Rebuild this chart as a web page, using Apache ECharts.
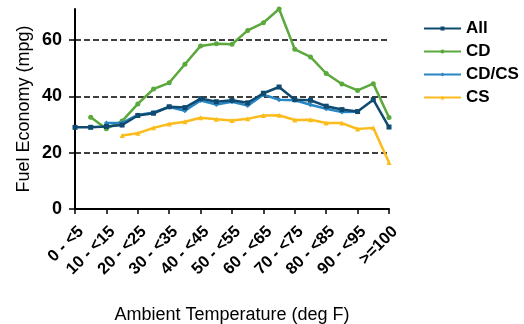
<!DOCTYPE html>
<html><head><meta charset="utf-8">
<script src="https://cdn.jsdelivr.net/npm/echarts@6/dist/echarts.min.js"></script>
<style>html,body{margin:0;padding:0;background:#fff}#c{width:524px;height:324px}</style>
</head><body><div id="c"></div>
<script>
var categories = ['0 - <5','5 - <10','10 - <15','15 - <20','20 - <25','25 - <30','30 - <35','35 - <40','40 - <45','45 - <50','50 - <55','55 - <60','60 - <65','65 - <70','70 - <75','75 - <80','80 - <85','85 - <90','90 - <95','95 - <100','>=100'];
var allValues = [29.0, 29.0, 29.3, 29.8, 33.2, 34.0, 36.3, 36.0, 39.2, 38.1, 38.6, 37.7, 41.1, 43.3, 38.8, 38.6, 36.5, 35.3, 34.6, 38.8, 29.1];
var cdValues = [null, 32.6, 28.5, 31.2, 37.3, 42.6, 44.8, 51.4, 57.9, 58.7, 58.5, 63.4, 66.1, 71.0, 56.7, 54.0, 48.1, 44.4, 42.1, 44.5, 32.5];
var cdcsValues = [null, null, 30.5, 30.6, 33.4, 34.3, 36.2, 34.9, 38.5, 37.1, 38.1, 36.7, 40.6, 38.8, 38.6, 37.0, 35.6, 34.4, 34.5, null, null];
var csValues = [null, null, null, 26.1, 26.9, 28.8, 30.2, 31.0, 32.4, 31.9, 31.4, 32.0, 33.2, 33.3, 31.6, 31.7, 30.5, 30.5, 28.4, 28.8, 16.5];
var yTicks = [0, 20, 40, 60];
var gridValues = [20, 40, 60];

var font = '"Liberation Sans", Arial, sans-serif';
function ser(name, data, color, symbol, z) {
  return {
    name: name, type: 'line', data: data, symbol: symbol, symbolSize: 5,
    showSymbol: true, connectNulls: false, z: z,
    lineStyle: { color: color, width: 2.5 },
    itemStyle: { color: color },
    emphasis: { disabled: true }
  };
}
var series = [
  ser('CS', csValues, '#fbbc1c', 'triangle', 3),
  ser('CD', cdValues, '#5ba93c', 'circle', 4),
  ser('CD/CS', cdcsValues, '#2886c4', 'diamond', 5),
  ser('All', allValues, '#0f4a70', 'rect', 6)
];
series[0].markLine = {
  silent: true, symbol: 'none', label: { show: false }, z: 1,
  lineStyle: { color: '#000', type: [6, 3], width: 1.5 },
  data: gridValues.map(function (v) { return { yAxis: v }; })
};

var chart = echarts.init(document.getElementById('c'), null, { renderer: 'canvas' });
chart.setOption({
  animation: false,
  backgroundColor: '#fff',
  grid: { left: 75, right: 135, top: 9, bottom: 115, containLabel: false, outerBoundsMode: 'none' },
  legend: {
    data: ['All', 'CD', 'CD/CS', 'CS'],
    orient: 'vertical', left: 418, top: 15,
    itemWidth: 37, itemHeight: 5, itemGap: 6,
    textStyle: { fontFamily: font, fontSize: 17, fontWeight: 'bold', color: '#000' }
  },
  xAxis: {
    type: 'category', data: categories, boundaryGap: false,
    name: 'Ambient Temperature (deg F)', nameLocation: 'middle', nameGap: 97, nameMoveOverlap: false,
    nameTextStyle: { fontFamily: font, fontSize: 18, color: '#000' },
    axisLine: { lineStyle: { color: '#000', width: 2 } },
    axisTick: { interval: 1, length: 5, lineStyle: { color: '#000', width: 1.5 } },
    axisLabel: { interval: 1, rotate: 45, margin: 14, verticalAlign: 'top', fontFamily: font, fontSize: 16.5, fontWeight: 'bold', color: '#000' },
    splitLine: { show: false }
  },
  yAxis: {
    type: 'value', min: 0, max: 71, interval: 20,
    name: 'Fuel Economy (mpg)', nameLocation: 'middle', nameGap: 42, nameRotate: 90, nameMoveOverlap: false,
    nameTextStyle: { fontFamily: font, fontSize: 18, color: '#000' },
    axisLine: { show: true, lineStyle: { color: '#000', width: 2 } },
    axisTick: { show: true, length: 6, customValues: yTicks, lineStyle: { color: '#000', width: 1.5 } },
    axisLabel: { customValues: yTicks, margin: 13, fontFamily: font, fontSize: 18, fontWeight: 'bold', color: '#000' },
    splitLine: { show: false }
  },
  series: series
});
</script></body></html>
